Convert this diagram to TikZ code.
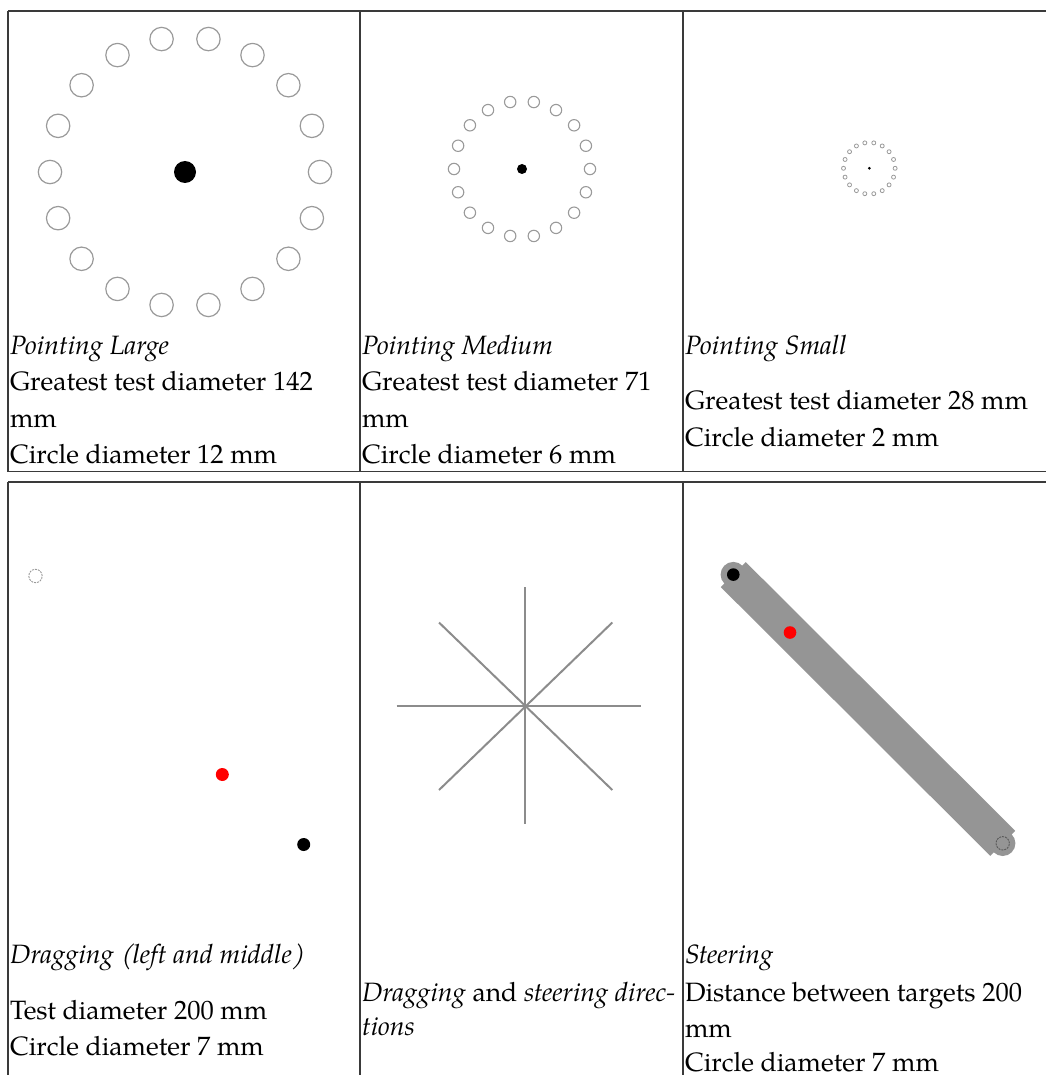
\documentclass[tikz,border=0pt]{standalone}
\usepackage{fontspec}
\setmainfont{texgyrepagella-regular.otf}[ItalicFont=texgyrepagella-italic.otf]
\newfontface\slparen{texgyrepagella-regular.otf}[FakeSlant=0.2]
\definecolor{ringgray}{HTML}{9A9A9A}
\definecolor{tablecol}{HTML}{3A3A3A}
\definecolor{bargray}{HTML}{959595}
\definecolor{stargray}{HTML}{8C8C8C}
\definecolor{tgtred}{HTML}{FF0000}
\begin{document}
\begin{tikzpicture}[x=1pt,y=-1pt,
  tableline/.style={draw=tablecol,line width=1.5pt},
  ringc/.style={draw=ringgray,line width=1.2pt},
  txt/.style={anchor=base west,inner sep=0pt,outer sep=0pt,font=\fontsize{26.5}{36}\selectfont},
  starline/.style={draw=stargray,line width=2pt},
  dashcirc/.style={line width=0.9pt,dash pattern=on 2pt off 1pt},
  dotblack/.style={fill=black},
  dotred/.style={fill=tgtred}]
\useasboundingbox (0,0) rectangle (1046,1075);
\clip (0,0) rectangle (1046,1075);

% table lines
\draw[tableline] (8,11) -- (1046,11);
\draw[tableline] (8,471.5) -- (1046,471.5);
\draw[tableline] (8,11) -- (8,471.5);
\draw[tableline] (360,11) -- (360,471.5);
\draw[tableline] (683,11) -- (683,471.5);
\draw[tableline] (8,482) -- (1046,482);
\draw[tableline] (8,482) -- (8,1080);
\draw[tableline] (360,482) -- (360,1080);
\draw[tableline] (683,482) -- (683,1080);

% Pointing Large
\coordinate (cL) at (185,172);
\begin{scope}[shift={(cL)}]
  \foreach \a in {0,20,...,340} \draw[ringc] (\a:135) circle[radius=11.7pt];
\end{scope}
\fill[dotblack] (cL) circle[radius=11pt];

% Pointing Medium
\coordinate (cM) at (522,169);
\begin{scope}[shift={(cM)}]
  \foreach \a in {0,20,...,340} \draw[ringc,line width=1.1pt] (\a:68) circle[radius=5.7pt];
\end{scope}
\fill[dotblack] (cM) circle[radius=5pt];

% Pointing Small
\coordinate (cS) at (869.3,168.3);
\begin{scope}[shift={(cS)}]
  \foreach \a in {0,20,...,340} \draw[ringc,line width=0.8pt] (\a:25.8) circle[radius=2pt];
\end{scope}
\fill[dotblack] (cS) circle[radius=1.5pt];

% Dragging
\coordinate (dStart) at (35.5,576);
\coordinate (dRed) at (222.3,774.5);
\coordinate (dBlack) at (303.7,844.5);
\draw[dashcirc,draw=ringgray] (dStart) circle[radius=6.7pt];
\fill[dotred] (dRed) circle[radius=6.5pt];
\fill[dotblack] (dBlack) circle[radius=6.5pt];

% Directions star
\coordinate (sC) at (525,705.5);
\coordinate (sN) at (525,587.3);
\coordinate (sS) at (525,823.7);
\coordinate (sW) at (396.7,705.5);
\coordinate (sE) at (641,705.5);
\coordinate (sNW) at (439,622.5);
\coordinate (sNE) at (612.3,622.5);
\coordinate (sSW) at (439,790);
\coordinate (sSE) at (612.3,790);
\draw[starline] (sN) -- (sS);
\draw[starline] (sW) -- (sE);
\draw[starline] (sNW) -- (sSE);
\draw[starline] (sNE) -- (sSW);

% Steering
\coordinate (tA) at (733.3,574.6);
\coordinate (tB) at (1002.7,843.3);
\coordinate (tRed) at (790,632.5);
\fill[bargray] (745.8,562.1) -- (720.8,587.1) -- (990.2,855.8) -- (1015.2,830.8) -- cycle;
\fill[bargray] (tA) circle[radius=12.7pt];
\fill[bargray] (tB) circle[radius=12.7pt];
\fill[dotblack] (tA) circle[radius=6.3pt];
\fill[dotred] (tRed) circle[radius=6.3pt];
\draw[dashcirc,draw=black!65] (tB) circle[radius=6.7pt];

% Texts
\node[txt] (t1a) at (10,354) {\textit{Pointing Large}};
\node[txt] (t1b) at (10,390) {Greatest test diameter 142};
\node[txt] (t1c) at (10,427) {mm};
\node[txt] (t1d) at (10,463) {Circle diameter 12 mm};

\node[txt] (t2a) at (362,354) {\textit{Pointing Medium}};
\node[txt] (t2b) at (362,390) {Greatest test diameter 71};
\node[txt] (t2c) at (362,427) {mm};
\node[txt] (t2d) at (362,463) {Circle diameter 6 mm};

\node[txt] (t3a) at (685,354) {\textit{Pointing Small}};
\node[txt] (t3b) at (685,409) {Greatest test diameter 28 mm};
\node[txt] (t3c) at (685,446) {Circle diameter 2 mm};

\node[txt] (t4a) at (10,963) {\textit{Dragging} {\slparen(}\textit{left and middle}{\slparen)}};
\node[txt] (t4b) at (10,1019) {Test diameter 200 mm};
\node[txt] (t4c) at (10,1055) {Circle diameter 7 mm};

\node[txt] (t5a) at (362,1001) {\textit{Dragging} and \textit{steering direc-}};
\node[txt] (t5b) at (362,1035) {\textit{tions}};

\node[txt] (t6a) at (685,963) {\textit{Steering}};
\node[txt] (t6b) at (685,1001) {Distance between targets 200};
\node[txt] (t6c) at (685,1037) {mm};
\node[txt] (t6d) at (685,1071.5) {Circle diameter 7 mm};
\end{tikzpicture}
\end{document}
